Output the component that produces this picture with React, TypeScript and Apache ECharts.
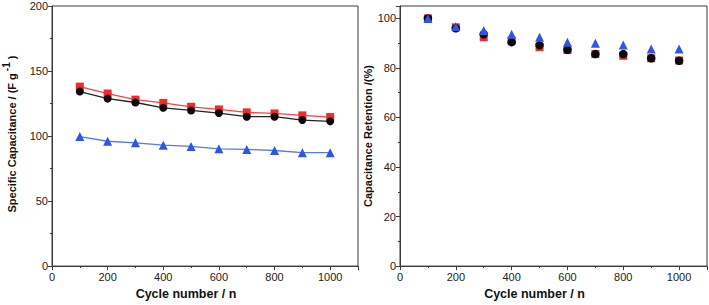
import React, { useEffect, useRef } from "react";
import * as echarts from "echarts";

const cycles = [100, 200, 300, 400, 500, 600, 700, 800, 900, 1000];
const capRed = [138, 132.7, 128, 125.5, 122.5, 120.5, 118.2, 117.4, 115.9, 114.6];
const capBlack = [134.2, 128.8, 125.8, 121.7, 119.7, 117.7, 114.9, 114.9, 112.3, 111.3];
const capBlue = [99.6, 96, 94.8, 93, 92, 90.2, 89.7, 88.9, 87.2, 87.2];
const retRed = [100, 96.4, 92.4, 91, 88.4, 87.2, 85.6, 84.9, 83.9, 83];
const retBlack = [100, 96, 93.6, 90.4, 89.2, 87.3, 85.6, 85.6, 83.9, 82.9];
const retBlue = [100, 96.7, 95.1, 93.6, 92.4, 90.4, 90, 89.3, 87.6, 87.6];

const pair = (ys: number[]) => cycles.map((x, i) => [x, ys[i]]);

const FONT = "Liberation Sans";
const axisColor = "#3a3a3a";
const labelColor = "#222";

function xAxis(gridIndex: number) {
  return {
    type: "value",
    gridIndex,
    min: 0,
    max: 1100,
    interval: 200,
    name: "Cycle number / n",
    nameLocation: "middle",
    nameGap: 19,
    nameTextStyle: { fontFamily: FONT, fontWeight: "bold", fontSize: 12.5, color: "#111", padding: [0, 38, 0, 0] },
    axisLine: { show: true, lineStyle: { color: axisColor, width: 1 } },
    axisTick: { show: true, inside: false, length: 4, lineStyle: { color: axisColor } },
    minorTick: { show: true, splitNumber: 2, length: 2, lineStyle: { color: axisColor } },
    axisLabel: { fontFamily: FONT, fontSize: 11, color: labelColor, margin: 5, showMaxLabel: false, formatter: (v: number) => String(v) },
    splitLine: { show: false },
  };
}

const red = "#f22a2a";
const black = "#0a0a0a";
const blue = "#2f55e6";

export default function App() {
  const ref = useRef<HTMLDivElement>(null);
  useEffect(() => {
    if (!ref.current) return;
    const chart = echarts.init(ref.current, null, { renderer: "svg" });
    chart.setOption({
      animation: false,
      backgroundColor: "#fff",
      grid: [
        { left: 50, top: 6, width: 308, height: 263, show: true, borderColor: axisColor, borderWidth: 1, backgroundColor: "transparent" },
        { left: 400, top: 6, width: 307, height: 263, show: true, borderColor: axisColor, borderWidth: 1, backgroundColor: "transparent" },
      ],
      xAxis: [xAxis(0), xAxis(1)],
      yAxis: [
        {
          type: "value",
          gridIndex: 0,
          min: 0,
          max: 200,
          interval: 50,
          name: "Specific Capacitance / (F g{sup|-1} )",
          nameLocation: "middle",
          nameGap: 29,
          nameTextStyle: {
            fontFamily: FONT,
            fontWeight: "bold",
            fontSize: 11,
            color: "#111",
            padding: [0, 0, 0, 4],
            rich: { sup: { fontFamily: FONT, fontWeight: "bold", fontSize: 10, color: "#111", verticalAlign: "bottom", padding: [0, 0, 12, 2] } },
          },
          axisLine: { show: true, lineStyle: { color: axisColor, width: 1 } },
          axisTick: { show: true, inside: false, length: 4, lineStyle: { color: axisColor } },
          minorTick: { show: true, splitNumber: 2, length: 2, lineStyle: { color: axisColor } },
          axisLabel: { fontFamily: FONT, fontSize: 11, color: labelColor, margin: 4 },
          splitLine: { show: false },
        },
        {
          type: "value",
          gridIndex: 1,
          min: 0,
          max: 105,
          interval: 20,
          name: "Capacitance Retention /(%)",
          nameLocation: "middle",
          nameGap: 25,
          nameTextStyle: { fontFamily: FONT, fontWeight: "bold", fontSize: 11, color: "#111" },
          axisLine: { show: true, lineStyle: { color: axisColor, width: 1 } },
          axisTick: { show: true, inside: false, length: 4, lineStyle: { color: axisColor } },
          minorTick: { show: true, splitNumber: 2, length: 2, lineStyle: { color: axisColor } },
          axisLabel: { fontFamily: FONT, fontSize: 11, color: labelColor, margin: 4, showMaxLabel: false },
          splitLine: { show: false },
        },
      ],
      series: [
        { type: "line", xAxisIndex: 0, yAxisIndex: 0, data: pair(capRed), symbol: "rect", symbolSize: 8, lineStyle: { color: "#ff4040", width: 1.3 }, itemStyle: { color: red } },
        { type: "line", xAxisIndex: 0, yAxisIndex: 0, data: pair(capBlack), symbol: "circle", symbolSize: 8, lineStyle: { color: "#222", width: 1.3 }, itemStyle: { color: black } },
        { type: "line", xAxisIndex: 0, yAxisIndex: 0, data: pair(capBlue), symbol: "triangle", symbolSize: 9, lineStyle: { color: "#5577ee", width: 1.3 }, itemStyle: { color: blue } },
        { type: "scatter", xAxisIndex: 1, yAxisIndex: 1, data: pair(retRed), symbol: "rect", symbolSize: 8, itemStyle: { color: red, opacity: 1 } },
        { type: "scatter", xAxisIndex: 1, yAxisIndex: 1, data: pair(retBlack), symbol: "circle", symbolSize: 8.5, itemStyle: { color: black, opacity: 1 } },
        { type: "scatter", xAxisIndex: 1, yAxisIndex: 1, data: pair(retBlue), symbol: "triangle", symbolSize: 9, itemStyle: { color: blue, opacity: 1 } },
      ],
    });
    return () => chart.dispose();
  }, []);
  return <div ref={ref} style={{ width: 709, height: 305, position: "absolute", left: 0, top: 0 }} />;
}
